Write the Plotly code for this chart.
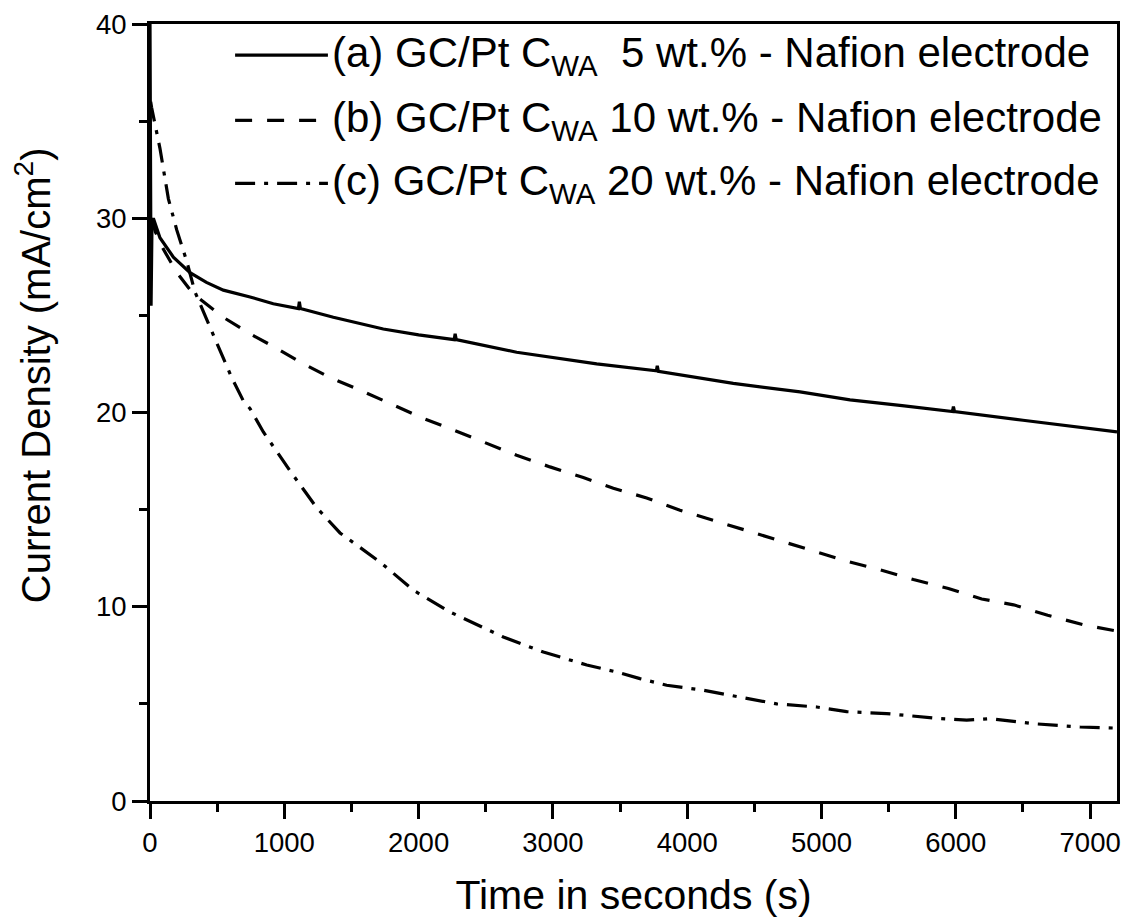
import plotly.graph_objects as go

# ---- data ----
t_a = [0, 8, 15, 25, 74, 174, 298, 420, 546, 745, 918, 1105, 1112, 1120, 1365, 1737, 2000,
       2265, 2272, 2280, 2730, 2978, 3326, 3770, 3777, 3785, 4343, 4840, 5212, 5600,
       5975, 5982, 5990, 6500, 7200]
j_a = [40.0, 25.5, 29.8, 30.0, 29.0, 28.0, 27.2, 26.7, 26.3, 25.95, 25.6, 25.35, 25.7, 25.35,
       24.9, 24.3, 24.0, 23.75, 24.05, 23.75, 23.1, 22.86, 22.5, 22.15, 22.4, 22.12, 21.5,
       21.06, 20.65, 20.35, 20.05, 20.3, 20.05, 19.6, 19.0]

t_b = [10, 40, 100, 200, 323, 546, 745, 918, 1117, 1340, 1564, 1787, 2035, 2258, 2482, 2730,
       2978, 3226, 3450, 3698, 3946, 4194, 4418, 4691, 4939, 5187, 5436, 5684, 5945, 6193,
       6430, 6684, 6962, 7200]
j_b = [30.0, 29.3, 28.4, 27.2, 26.1, 24.9, 24.05, 23.4, 22.6, 21.8, 21.15, 20.46, 19.7, 19.1,
       18.5, 17.8, 17.2, 16.65, 16.1, 15.6, 14.97, 14.45, 13.94, 13.4, 12.85, 12.35, 11.9,
       11.4, 10.94, 10.4, 10.1, 9.56, 9.05, 8.75]

t_c = [5, 12, 74, 137, 199, 273, 335, 422, 521, 608, 695, 745, 844, 1042, 1241, 1415, 1713,
       1961, 2234, 2631, 2929, 3252, 3475, 3648, 3847, 4120, 4468, 4666, 4964, 5187, 5485,
       5882, 6081, 6254, 6577, 6925, 7200]
j_c = [36.0, 35.7, 33.6, 31.0, 29.4, 27.8, 26.2, 24.75, 23.2, 21.8, 20.6, 20.2, 19.0, 17.0,
       15.1, 13.8, 12.3, 10.85, 9.73, 8.44, 7.67, 7.0, 6.64, 6.3, 5.96, 5.7, 5.27, 5.0, 4.84,
       4.6, 4.5, 4.24, 4.16, 4.24, 3.98, 3.81, 3.75]

labels = [
    "(a) GC/Pt C<sub>WA</sub>\u00a0\u00a05 wt.% - Nafion electrode",
    "(b) GC/Pt C<sub>WA</sub>\u00a010 wt.% - Nafion electrode",
    "(c) GC/Pt C<sub>WA</sub>\u00a020 wt.% - Nafion electrode",
]
dashes = ["solid", "17px,15px", "20px,9px,4px,9px"]
x_ticks = [0, 1000, 2000, 3000, 4000, 5000, 6000, 7000]
y_ticks = [0, 10, 20, 30, 40]
x_title = "Time in seconds (s)"
y_title = "Current Density (mA/cm<sup>2</sup>)"

FONT = "Liberation Sans, Arial, sans-serif"
fig = go.Figure()
for t, j, d in zip([t_a, t_b, t_c], [j_a, j_b, j_c], dashes):
    fig.add_trace(go.Scatter(x=t, y=j, mode="lines",
                             line=dict(color="black", width=3.2, dash=d),
                             showlegend=False, hoverinfo="skip"))

# manual legend (line samples + text)
leg_y = [0.960, 0.876, 0.795]
for lab, d, yy in zip(labels, dashes, leg_y):
    fig.add_shape(type="line", xref="paper", yref="paper", x0=0.088, x1=0.184, y0=yy, y1=yy,
                  line=dict(color="black", width=3.2, dash=d))
    fig.add_annotation(xref="paper", yref="paper", x=0.186, y=yy, xanchor="left",
                       yanchor="middle", text=lab, showarrow=False,
                       font=dict(family=FONT, size=42, color="black"))

# y-axis title as annotation (reference title sits above the plot centre)
fig.add_annotation(xref="paper", yref="paper", x=-0.121, y=0.548, xanchor="center",
                   yanchor="middle", textangle=-90, text=y_title, showarrow=False,
                   font=dict(family=FONT, size=40, color="black"))

axis_common = dict(showline=True, linecolor="black", linewidth=3, mirror=True,
                   ticks="outside", ticklen=15, tickwidth=2.5, tickcolor="black",
                   showgrid=False, zeroline=False,
                   tickfont=dict(family=FONT, size=27.5, color="black"))
fig.update_xaxes(range=[0, 7200], tickvals=x_ticks,
                 minor=dict(dtick=500, ticks="outside", ticklen=8, tickwidth=2.5,
                            tickcolor="black", showgrid=False),
                 title=dict(text=x_title, standoff=24,
                            font=dict(family=FONT, size=41, color="black")),
                 **axis_common)
fig.update_yaxes(range=[0, 40], tickvals=y_ticks,
                 minor=dict(dtick=5, ticks="outside", ticklen=8, tickwidth=2.5,
                            tickcolor="black", showgrid=False),
                 **axis_common)
fig.update_layout(width=1126, height=918, plot_bgcolor="white", paper_bgcolor="white",
                  margin=dict(l=150, r=9, t=24, b=117, autoexpand=False), showlegend=False)
# remove the default 8px page margin so the figure fills the window exactly
fig.write_html("out.html", config={"displayModeBar": False},
               post_script="document.body.style.margin='0';document.body.style.overflow='hidden';")
